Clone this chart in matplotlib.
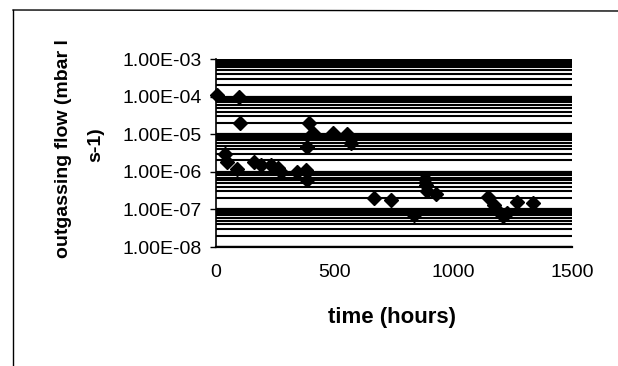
import matplotlib
matplotlib.use("Agg")
import matplotlib.pyplot as plt
from matplotlib.lines import Line2D
from matplotlib.ticker import LogLocator, FixedLocator, NullFormatter

plt.rcParams['font.family'] = ['Liberation Sans', 'DejaVu Sans']

# data
time_hours = [5, 95, 100, 40, 48, 90, 160, 190, 230, 260, 275, 340, 380, 385,
              385, 390, 410, 495, 550, 570, 665, 738, 835, 880, 885, 890, 925,
              1145, 1170, 1190, 1208, 1225, 1270, 1335]
outgassing = [1.1e-4, 1.0e-4, 2.0e-5, 3.0e-6, 1.8e-6, 1.2e-6, 1.8e-6, 1.5e-6,
              1.5e-6, 1.3e-6, 1.0e-6, 1.0e-6, 1.1e-6, 6.0e-7, 4.5e-6, 2.0e-5,
              1.1e-5, 1.1e-5, 1.0e-5, 6.0e-6, 2.0e-7, 1.8e-7, 7.0e-8, 6.5e-7,
              4.5e-7, 3.0e-7, 2.5e-7, 2.1e-7, 1.3e-7, 9.0e-8, 6.5e-8, 8.0e-8,
              1.6e-7, 1.5e-7]
x_ticks = [0, 500, 1000, 1500]
y_ticks = [1e-8, 1e-7, 1e-6, 1e-5, 1e-4, 1e-3]
y_tick_labels = ["1.00E-08", "1.00E-07", "1.00E-06", "1.00E-05", "1.00E-04", "1.00E-03"]

W, H = 618, 366
fig = plt.figure(figsize=(W / 100, H / 100), dpi=100)
fig.patch.set_facecolor('white')

ax = fig.add_axes([216 / W, 1 - 247 / H, 356 / W, 188 / H])
ax.set_yscale('log')
ax.set_xlim(0, 1500)
ax.set_ylim(1e-8, 1e-3)

ax.yaxis.set_major_locator(FixedLocator(y_ticks))
ax.set_yticklabels(y_tick_labels)
ax.yaxis.set_minor_locator(LogLocator(base=10, subs=range(2, 10), numticks=20))
ax.yaxis.set_minor_formatter(NullFormatter())
ax.set_xticks(x_ticks)
ax.set_xticklabels([str(t) for t in x_ticks])

ax.grid(True, which='major', axis='y', color='black', lw=1.6)
ax.grid(True, which='minor', axis='y', color='black', lw=1.5)
ax.set_axisbelow(True)

for s in ['top', 'right']:
    ax.spines[s].set_visible(False)
ax.spines['left'].set_color('black')
ax.spines['bottom'].set_color('black')
ax.spines['left'].set_linewidth(1.2)
ax.spines['bottom'].set_linewidth(1.6)

ax.tick_params(axis='y', which='major', direction='out', length=4, width=1,
               pad=6, labelsize=14)
ax.tick_params(axis='y', which='minor', length=0)
ax.tick_params(axis='x', which='major', length=0, pad=12, labelsize=14)

ax.plot(time_hours, outgassing, linestyle='none', marker='D', markersize=7.5,
        color='black', zorder=3, clip_on=False)

ax.set_xlabel('time (hours)', fontsize=16, fontweight='bold')
ax.xaxis.set_label_coords((392 - 216) / 356, (247 - 318) / 188)
ax.xaxis.label.set_va('center')

fig.text(64 / W, 1 - 149 / H, 'outgassing flow (mbar l', rotation=90,
         fontsize=14, fontweight='bold', ha='center', va='center')
fig.text(96 / W, 1 - 145 / H, 's-1)', rotation=90,
         fontsize=14, fontweight='bold', ha='center', va='center')

# outer chart frame (left and top edges visible)
fig.add_artist(Line2D([13 / W, 13 / W], [0, 1 - 10 / H], transform=fig.transFigure,
                      color='black', lw=1.0))
fig.add_artist(Line2D([13 / W, 1], [1 - 10 / H, 1 - 11 / H], transform=fig.transFigure,
                      color='black', lw=1.0))

fig.savefig('out.png', dpi=100)
